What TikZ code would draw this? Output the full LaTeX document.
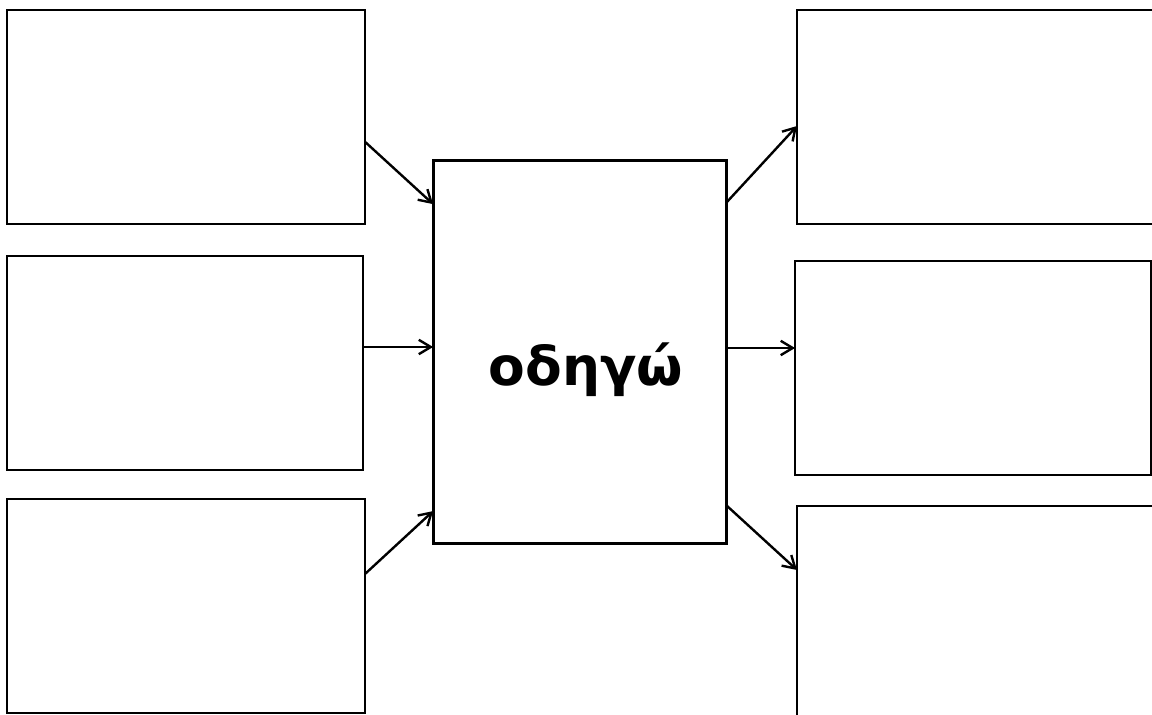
\documentclass[tikz,border=0pt]{standalone}
\usepackage{fontspec}
\newfontfamily\greekfont{DejaVu Sans}
\usetikzlibrary{arrows.meta,positioning,calc}
\tikzset{
  >={Straight Barb[length=3mm,width=3.6mm]},
  panel/.style 2 args={draw=black,line width=2.1pt,fill=white,inner sep=0pt,outer sep=0pt,
    minimum width=#1cm,minimum height=#2cm},
  link/.style={->,line width=1.7pt,draw=black},
  word/.style={font=\greekfont\bfseries\fontsize{38}{44}\selectfont},
}
\begin{document}
\begin{tikzpicture}
  \useasboundingbox (0,0) rectangle (28.8,-17.875);
  % left column
  \node[panel={8.95}{5.35}] (lt) at (4.65,-2.925) {};
  \node[panel={8.9}{5.35}] (lm) at (4.625,-9.075) {};
  \node[panel={8.95}{5.35}] (lb) at (4.65,-15.15) {};
  % middle
  \node[panel={7.325}{9.575}] (core) at (14.49,-8.79) {};
  \node[word] (verb) at ($(core.center)+(0.16,-0.46)$) {οδηγώ};
  % right column
  \node[panel={9.2}{5.35}] (rt) at (24.525,-2.925) {};
  \node[panel={8.9}{5.35}] (rm) at (24.325,-9.2) {};
  \node[panel={9.2}{5.6}] (rb) at (24.525,-15.45) {};
  % arrows in
  \draw[link] ($(lt.east)+(0,-0.62)$) -- ($(core.north west)+(0,-1.1)$);
  \draw[link] ($(lm.east)+(0,0.4)$) coordinate (lmout) -- (lmout -| core.west);
  \draw[link] ($(lb.east)+(0,0.8)$) -- ($(core.south west)+(0,0.8)$);
  % arrows out
  \draw[link] ($(core.north east)+(0,-1.07)$) -- ($(rt.west)+(0,-0.225)$);
  \draw[link] ($(core.east)+(0,0.09)$) coordinate (rmin) -- (rmin -| rm.west);
  \draw[link] ($(core.south east)+(0,0.95)$) -- ($(rb.west)+(0,1.2)$);
\end{tikzpicture}
\end{document}
